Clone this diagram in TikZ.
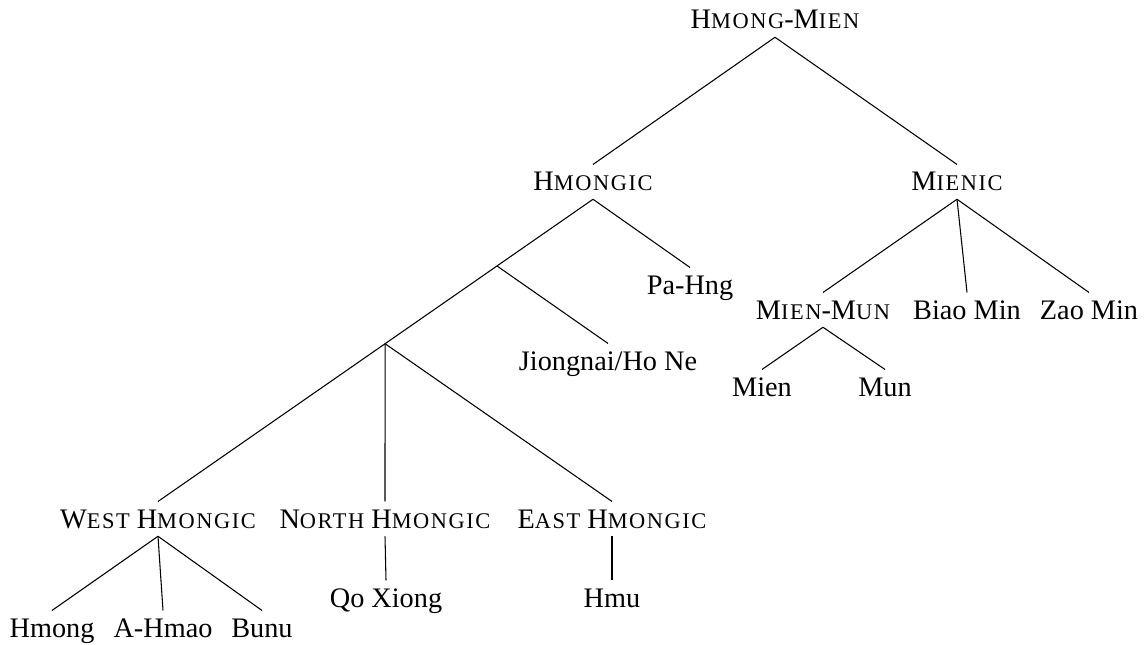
\documentclass[tikz,border=0pt]{standalone}
\usepackage{fontspec}
\setmainfont{Liberation Serif}
\usetikzlibrary{calc}
\newcommand\smc[1]{{\fontsize{16.8pt}{17pt}\selectfont\addfontfeature{LetterSpace=7}#1}}
\begin{document}
\begin{tikzpicture}[x=0.75pt,y=-0.75pt,
  lab/.style={anchor=base,inner xsep=0pt,inner ysep=6pt,text height=13.7pt,text depth=0pt,
    font=\fontsize{21.2pt}{22pt}\selectfont},
  edge/.style={line width=0.8pt}]
\useasboundingbox (0,0) rectangle (1144,645);
% nodes
\node[lab] (hm) at (775,29) {H\smc{MONG}-M\smc{IEN}};
\node[lab] (hmongic) at (593,191) {H\smc{MONGIC}};
\node[lab] (mienic) at (957,191) {M\smc{IENIC}};
\node[lab] (pahng) at (690,294) {Pa-Hng};
\node[lab] (jiong) at (608,370) {Jiongnai/Ho Ne};
\node[lab] (mienmun) at (823,319) {M\smc{IEN}-M\smc{UN}};
\node[lab] (biao) at (967,319) {Biao Min};
\node[lab] (zao) at (1089,319) {Zao Min};
\node[lab] (mien) at (762,396) {Mien};
\node[lab] (mun) at (885,396) {Mun};
\node[lab] (west) at (158,528) {W\smc{EST} H\smc{MONGIC}};
\node[lab] (north) at (385,528) {N\smc{ORTH} H\smc{MONGIC}};
\node[lab] (east) at (612,528) {E\smc{AST} H\smc{MONGIC}};
\node[lab] (qo) at (386,607) {Qo Xiong};
\node[lab] (hmu) at (612,607) {Hmu};
\node[lab] (hmong) at (52,637) {Hmong};
\node[lab] (ahmao) at (163,637) {A-Hmao};
\node[lab] (bunu) at (262,637) {Bunu};
% junctions
\coordinate (j1) at ($(hmongic.south)!0.2207!(west.north)$);
\coordinate (j2) at ($(hmongic.south)!0.478!(west.north)$);
% edges
\draw[edge] (hm.south) -- (hmongic.north);
\draw[edge] (hm.south) -- (mienic.north);
\draw[edge] (hmongic.south) -- (pahng.north);
\draw[edge] (hmongic.south) -- (west.north);
\draw[edge] (j1) -- (jiong.north);
\draw[edge] (j2) -- (north.north);
\draw[edge] (j2) -- (east.north);
\draw[edge] (mienic.south) -- (mienmun.north);
\draw[edge] (mienic.south) -- (biao.north);
\draw[edge] (mienic.south) -- (zao.north);
\draw[edge] (mienmun.south) -- (mien.north);
\draw[edge] (mienmun.south) -- (mun.north);
\draw[edge] (west.south) -- (hmong.north);
\draw[edge] (west.south) -- (ahmao.north);
\draw[edge] (west.south) -- (bunu.north);
\draw[edge] (north.south) -- (qo.north);
\draw[edge] (east.south) -- (hmu.north);
\end{tikzpicture}
\end{document}
